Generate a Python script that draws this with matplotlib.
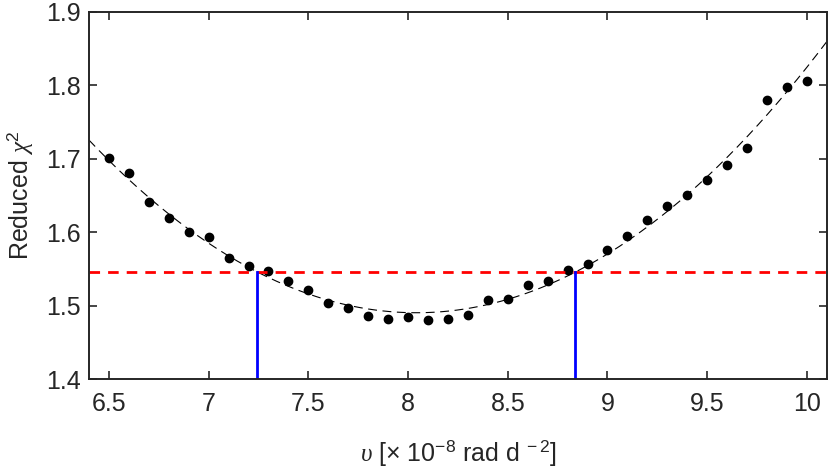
import numpy as np
import matplotlib.pyplot as plt

plt.rcParams['font.family'] = ['Liberation Sans', 'DejaVu Sans']
plt.rcParams['mathtext.fontset'] = 'custom'
plt.rcParams['mathtext.rm'] = 'Liberation Sans'
plt.rcParams['mathtext.it'] = 'Liberation Serif:italic'

# measured reduced chi^2 against the trial value
nu = [6.5, 6.6, 6.7, 6.8, 6.9, 7.0, 7.1, 7.2, 7.3, 7.4, 7.5, 7.6,
      7.7, 7.8, 7.9, 8.0, 8.1, 8.2, 8.3, 8.4, 8.5, 8.6, 8.7, 8.8,
      8.9, 9.0, 9.1, 9.2, 9.3, 9.4, 9.5, 9.6, 9.7, 9.8, 9.9, 10.0]
chi2 = [1.701, 1.680, 1.641, 1.619, 1.600, 1.593, 1.565, 1.554, 1.547, 1.533, 1.521, 1.504,
        1.497, 1.486, 1.482, 1.484, 1.480, 1.482, 1.487, 1.507, 1.509, 1.528, 1.534, 1.548,
        1.557, 1.576, 1.595, 1.617, 1.635, 1.651, 1.671, 1.692, 1.715, 1.780, 1.798, 1.806]

threshold = 1.546
bounds = [7.245, 8.838]

xticks = [6.5, 7, 7.5, 8, 8.5, 9, 9.5, 10]
xticklabels = ['6.5', '7', '7.5', '8', '8.5', '9', '9.5', '10']
yticks = [1.4, 1.5, 1.6, 1.7, 1.8, 1.9]

# quadratic fit through the points
p2 = np.poly1d(np.polyfit(nu, chi2, 2))

fig = plt.figure(figsize=(8.3, 4.67), dpi=100)
ax = fig.add_axes([0.1072, 0.1884, 0.889, 0.786])

xp = np.linspace(6.4, 10.1, 300)
ax.plot(xp, p2(xp), color='k', lw=0.8, ls=(0, (8, 5)))
ax.plot(nu, chi2, 'o', color='k', ms=6)
ax.axhline(threshold, color='#ff0000', lw=2, ls=(0, (3.8, 2.9)))
for b in bounds:
    ax.plot([b, b], [1.4, threshold], color='#0000ff', lw=2)

ax.set_xlim(6.4, 10.1)
ax.set_ylim(1.4, 1.9)
ax.set_xticks(xticks)
ax.set_xticklabels(xticklabels)
ax.set_yticks(yticks)

ax.tick_params(direction='in', length=6, width=1.2, top=True, right=True,
               labelsize=18, colors='#262626')
ax.tick_params(axis='x', pad=9)
ax.tick_params(axis='y', pad=6)
for s in ax.spines.values():
    s.set_linewidth(1.4)
    s.set_color('#262626')

ax.set_xlabel(r'$\upsilon$ [$\times$ 10$^{-8}$ rad d$^{\ -2}$]', fontsize=18, color='#262626', labelpad=16)
ax.set_ylabel(r'Reduced $\chi^2$', fontsize=18, color='#262626', labelpad=8)

fig.savefig('out.png', dpi=100)
